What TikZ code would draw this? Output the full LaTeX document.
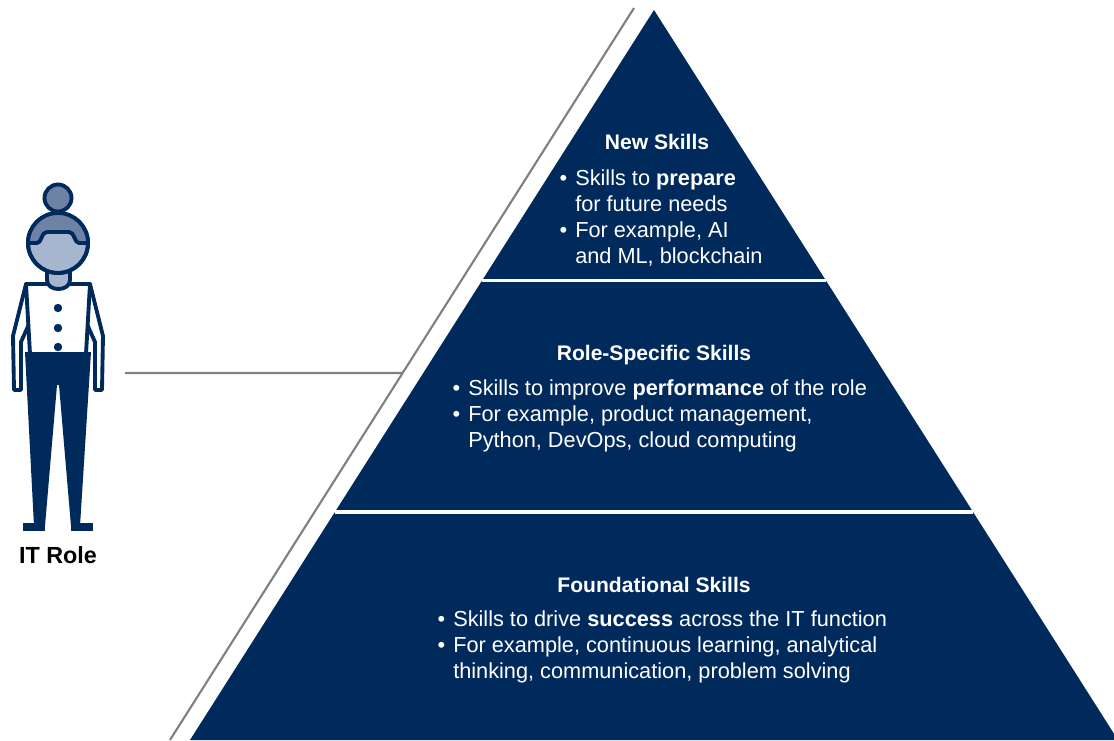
\documentclass[tikz,border=0pt]{standalone}
\usepackage{fontspec}
\setmainfont{Liberation Sans}
\usetikzlibrary{calc}
\definecolor{navy}{HTML}{002A5C}
\definecolor{hair}{HTML}{6E82A5}
\definecolor{skin}{HTML}{A7B6CF}
\definecolor{rule}{HTML}{7C8282}
\newcommand{\bul}{\llap{\textbullet\hspace{6pt}}}

\begin{document}
\begin{tikzpicture}[x=0.75pt, y=-0.75pt,
    outline/.style={draw=navy, line width=2.9pt, line join=round},
    divider/.style={draw=white, line width=2.3pt},
    guide/.style={draw=rule, line width=1.6pt},
    title/.style={text=white, anchor=base, inner sep=0pt, font=\bfseries\fontsize{15.8}{19}\selectfont},
    items/.style={text=white, align=left, anchor=base west, inner sep=0pt, font=\fontsize{16.3}{19.3}\selectfont}]
    \useasboundingbox (0, 0) rectangle (1114, 740);
    \clip (0, 0) rectangle (1114, 740);

    % pyramid
    \coordinate (apex) at (654, 10);
    \coordinate (bl) at (190, 740);
    \coordinate (br) at (1118, 740);
    \fill [navy] (apex) -- (bl) -- (br) -- cycle;
    \draw [divider] ($(apex)!0.371!(bl)$) -- ($(apex)!0.371!(br)$);
    \draw [divider] ($(apex)!0.6877!(bl)$) -- ($(apex)!0.6877!(br)$);

    % guide lines
    \coordinate (gtop) at (634, 8);
    \coordinate (gbot) at (170, 740);
    \coordinate (stub) at (125, 373);
    \coordinate (joint) at ($(gtop)!0.4986!(gbot)$);
    \draw [guide] (gtop) -- (gbot);
    \draw [guide] (stub) -- (joint);

    % levels (lists sit on the baseline of their last line)
    \node [title] (new) at (657, 149) {New Skills};
    \node [items] (newlist) at (575, 263) {\bul Skills to \textbf{prepare}\\ for future needs\\ \bul For example, AI\\ and ML, blockchain};
    \node [title] (rolespec) at (654, 360) {Role-Specific Skills};
    \node [items] (rolelist) at (468, 447) {\bul Skills to improve \textbf{performance} of the role\\ \bul For example, product management,\\ Python, DevOps, cloud computing};
    \node [title] (found) at (654, 592) {Foundational Skills};
    \node [items] (foundlist) at (453, 678) {\bul Skills to drive \textbf{success} across the IT function\\ \bul For example, continuous learning, analytical\\ thinking, communication, problem solving};

    % person
    \draw [outline, fill=white] (26, 284) -- (13, 336) -- (14, 390) -- (21, 390) -- (21, 342) -- (30, 322) -- cycle;
    \draw [outline, fill=white] (90, 284) -- (103, 336) -- (102, 390) -- (95, 390) -- (95, 342) -- (86, 322) -- cycle;
    \draw [outline, fill=white] (26, 284) -- (90, 284) -- (86, 354) -- (30, 354) -- cycle;
    \fill [navy] (25, 352) -- (91, 352) -- (80, 526) -- (71, 526) -- (59, 385) -- (57, 385) -- (45, 526) -- (34, 526) -- cycle;
    \fill [navy] (23, 523) rectangle (45, 531);
    \fill [navy] (71, 523) rectangle (93, 531);
    \foreach \y in {308, 328, 347}
        \fill [navy] (58, \y) circle [radius=4.2];
    \draw [outline, fill=skin] (47, 262) -- (47, 280) .. controls (47, 292) and (70, 292) .. (70, 280) -- (70, 262) -- cycle;
    \draw [outline, fill=hair] (58, 198) circle [radius=13.5];
    \draw [outline, fill=skin] (58, 243) circle [radius=30];
    \begin{scope}
        \clip (58, 243) circle [radius=30];
        \draw [outline, fill=hair] (20, 200) -- (20, 243) -- (37, 243) .. controls (42, 243) and (41, 232) .. (47, 232) -- (69, 232) .. controls (75, 232) and (74, 243) .. (79, 243) -- (96, 243) -- (96, 200) -- cycle;
    \end{scope}
    \draw [outline] (58, 243) circle [radius=30];
    \node [anchor=base, inner sep=0pt, font=\bfseries\fontsize{17.5}{20}\selectfont] (itrole) at (58, 563) {IT Role};
\end{tikzpicture}
\end{document}
